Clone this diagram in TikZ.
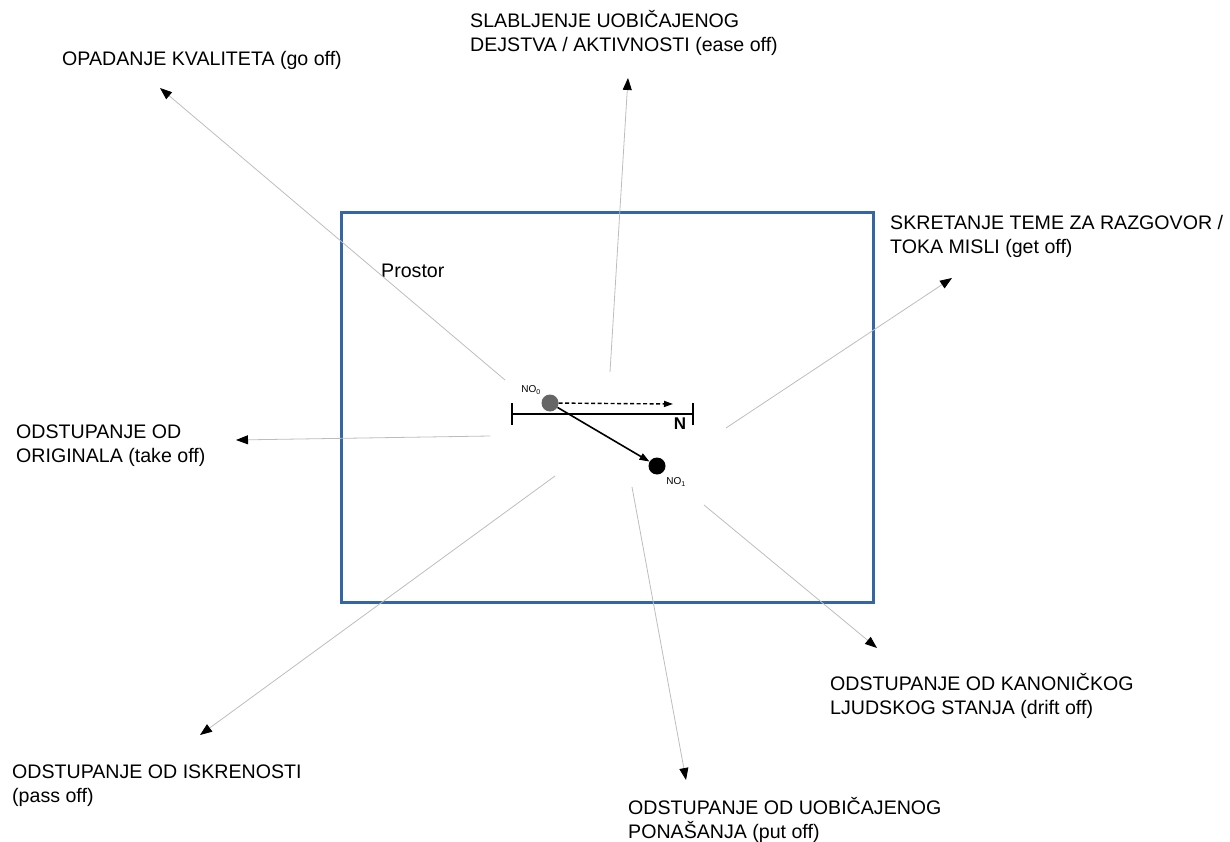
\documentclass[tikz,border=0pt]{standalone}
\usepackage{fontspec}
\setmainfont{Liberation Sans}
\usetikzlibrary{arrows.meta,calc}
\definecolor{framecolor}{HTML}{3465A4}
\definecolor{raycolor}{HTML}{BDBDBD}
\definecolor{pointcolor}{HTML}{666666}
\begin{document}
\begin{tikzpicture}[x=1pt,y=-1pt,
  ray/.style={draw=raycolor,line width=0.8pt,-{Triangle[length=12pt,width=9pt,color=black]}},
  lbl/.style={anchor=base west,inner sep=0pt,align=left,font=\fontsize{19.6}{24}\selectfont},
  dot/.style={circle,inner sep=0pt,minimum size=17pt},
  small/.style={inner sep=0pt,font=\fontsize{10}{12}\selectfont}]
\useasboundingbox (0,0) rectangle (1230,842);
\draw[framecolor,line width=3pt] (341,213) rectangle (873,602);
\node[lbl] (prostor) at (381,277) {Prostor};
% the seven meanings
\node[lbl] (gooff) at (62,66) {OPADANJE KVALITETA (go off)};
\node[lbl] (easeoff) at (470,52) {SLABLJENJE UOBIČAJENOG\\DEJSTVA / AKTIVNOSTI (ease off)};
\node[lbl] (getoff) at (890,253) {SKRETANJE TEME ZA RAZGOVOR /\\TOKA MISLI (get off)};
\node[lbl] (takeoff) at (16,462) {ODSTUPANJE OD\\ORIGINALA (take off)};
\node[lbl] (driftoff) at (830,714) {ODSTUPANJE OD KANONIČKOG\\LJUDSKOG STANJA (drift off)};
\node[lbl] (passoff) at (12,802) {ODSTUPANJE OD ISKRENOSTI\\(pass off)};
\node[lbl] (putoff) at (628,838) {ODSTUPANJE OD UOBIČAJENOG\\PONAŠANJA (put off)};
% rays
\coordinate (gooffs) at (505,380); \coordinate (gooffe) at (160,88);
\coordinate (easeoffs) at (610,372); \coordinate (easeoffe) at (628,78);
\coordinate (getoffs) at (726,428); \coordinate (getoffe) at (952,278);
\coordinate (takeoffs) at (490,436); \coordinate (takeoffe) at (236,440);
\coordinate (driftoffs) at (704,505); \coordinate (driftoffe) at (877,648);
\coordinate (passoffs) at (555,476); \coordinate (passoffe) at (200,735);
\coordinate (putoffs) at (632,487); \coordinate (putoffe) at (686,780);
\foreach \r in {gooff,easeoff,getoff,takeoff,driftoff,passoff,putoff}{\draw[ray] (\r s)--(\r e);}
% scale N
\coordinate (nleft) at (512,414); \coordinate (nright) at (693,414);
\draw[line width=2.2pt] (nleft) -- (nright);
\draw[line width=2.2pt] ($(nleft)+(0,-11)$) -- ($(nleft)+(0,11)$);
\draw[line width=2.2pt] ($(nright)+(0,-11)$) -- ($(nright)+(0,11)$);
\node[inner sep=0pt,font=\fontsize{17}{20}\selectfont\bfseries] (nlbl) at (680,424) {N};
\node[dot,fill=pointcolor] (no0) at (550,403) {};
\node[dot,fill=black] (no1) at (657,466) {};
\node[small] (no0lbl) at (531,390) {NO\textsubscript{0}};
\node[small] (no1lbl) at (676,482) {NO\textsubscript{1}};
\coordinate (dashend) at (673,404);
\draw[line width=1.4pt,dashed,dash pattern=on 4pt off 2.5pt,-{Triangle[length=9pt,width=6pt]}] (no0) -- (dashend);
\draw[line width=1.6pt,-{Triangle[length=10pt,width=7pt]}] (no0) -- (no1);
\end{tikzpicture}
\end{document}
